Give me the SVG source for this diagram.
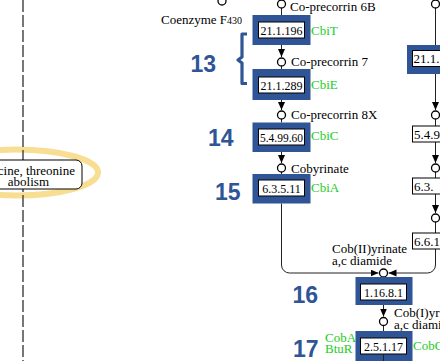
<svg xmlns="http://www.w3.org/2000/svg" width="440" height="361" viewBox="0 0 440 361">
  <style>
    .lbl { font-family: "Liberation Serif", "Times New Roman", serif; font-size: 13px; fill: #000; }
    .gene { font-family: "Liberation Serif", "Times New Roman", serif; font-size: 13px; fill: #1ECC1E; }
    .ec { font-family: "Liberation Serif", "Times New Roman", serif; font-size: 12px; fill: #000; text-anchor: middle; }
    .num { font-family: "Liberation Sans", Arial, sans-serif; font-size: 23px; font-weight: bold; fill: #2F5597; }
    .frame { fill: #2F5597; }
    .box { fill: #fff; stroke: #000; stroke-width: 1; }
    .cpd { fill: #fff; stroke: #000; stroke-width: 1.3; }
    .edge { fill: none; stroke: #222; stroke-width: 1; }
  </style>
  <defs>
    <marker id="arrow" markerUnits="userSpaceOnUse" markerWidth="8" markerHeight="8" refX="8" refY="3.5" orient="auto">
      <path d="M0,0 L8,3.5 L0,7 z" fill="#000"/>
    </marker>
  </defs>

  <rect width="440" height="361" fill="#fff"/>

  <!-- linked pathway map, highlighted -->
  <g id="map-glycine-threonine">
    <ellipse cx="16" cy="172.5" rx="82" ry="23" fill="none" stroke="#F8DE93" stroke-width="6"/>
    <line x1="23" y1="0" x2="23" y2="361" stroke="#555" stroke-width="1.6" stroke-dasharray="12 3"/>
    <rect x="-20" y="160" width="102" height="29" rx="6" ry="6" fill="#fff" stroke="#000" stroke-width="1"/>
    <text class="lbl" x="75" y="175" text-anchor="end">cine, threonine</text>
    <text class="lbl" x="49" y="186" text-anchor="end">abolism</text>
  </g>

  <!-- connectors -->
  <g id="connectors">
    <path class="edge" d="M281.5,-4 V15"/>
    <path class="edge" d="M281.5,45 V57" marker-end="url(#arrow)"/>
    <path class="edge" d="M281.5,62 V69"/>
    <path class="edge" d="M281.5,100 V110" marker-end="url(#arrow)"/>
    <path class="edge" d="M281.5,115 V122.5"/>
    <path class="edge" d="M281.5,152 V163" marker-end="url(#arrow)"/>
    <path class="edge" d="M281.5,168 V174"/>
    <path class="edge" d="M281.5,203.5 V265 A8,8 0 0 0 289.5,273 H378.5" marker-end="url(#arrow)"/>

    <path class="edge" d="M435.5,-4 V45"/>
    <path class="edge" d="M435.5,74 V110" marker-end="url(#arrow)"/>
    <path class="edge" d="M435.5,115 V126"/>
    <path class="edge" d="M435.5,142 V163" marker-end="url(#arrow)"/>
    <path class="edge" d="M435.5,168 V178"/>
    <path class="edge" d="M435.5,194 V213" marker-end="url(#arrow)"/>
    <path class="edge" d="M435.5,218 V233"/>
    <path class="edge" d="M435.5,249 V265 A8,8 0 0 1 427.5,273 H388.5" marker-end="url(#arrow)"/>

    <path class="edge" d="M383.5,305 V316.5" marker-end="url(#arrow)"/>
    <path class="edge" d="M383.5,321.5 V331"/>
  </g>

  <!-- compounds -->
  <g id="cpd-coenzyme-f430">
    <circle class="cpd" cx="222" cy="1" r="4"/>
    <text class="lbl" x="161" y="24">Coenzyme F<tspan font-size="10">430</tspan></text>
  </g>
  <g id="cpd-co-precorrin-6b">
    <circle class="cpd" cx="281.5" cy="4" r="4"/>
    <text class="lbl" x="290" y="11">Co-precorrin 6B</text>
  </g>
  <g id="cpd-co-precorrin-7">
    <circle class="cpd" cx="281.5" cy="62" r="4"/>
    <text class="lbl" x="291" y="66">Co-precorrin 7</text>
  </g>
  <g id="cpd-co-precorrin-8x">
    <circle class="cpd" cx="281.5" cy="115" r="4"/>
    <text class="lbl" x="291" y="119">Co-precorrin 8X</text>
  </g>
  <g id="cpd-cobyrinate">
    <circle class="cpd" cx="281.5" cy="168" r="4"/>
    <text class="lbl" x="291" y="173">Cobyrinate</text>
  </g>
  <g id="cpd-right-1"><circle class="cpd" cx="435.5" cy="4" r="4"/></g>
  <g id="cpd-right-2"><circle class="cpd" cx="435.5" cy="115" r="4"/></g>
  <g id="cpd-right-3"><circle class="cpd" cx="435.5" cy="168" r="4"/></g>
  <g id="cpd-right-4"><circle class="cpd" cx="435.5" cy="218" r="4"/></g>
  <g id="cpd-cob-ii-yrinate-diamide">
    <circle class="cpd" cx="383.5" cy="273" r="4"/>
    <text class="lbl" x="332" y="253">Cob(II)yrinate</text>
    <text class="lbl" x="332" y="265">a,c diamide</text>
  </g>
  <g id="cpd-cob-i-yrinate-diamide">
    <circle class="cpd" cx="383.5" cy="321.5" r="4"/>
    <text class="lbl" x="394" y="317">Cob(I)yrinate</text>
    <text class="lbl" x="394" y="329">a,c diamide</text>
  </g>

  <!-- enzymes (highlighted steps) -->
  <g id="step-13-21-1-196">
    <rect class="frame" x="252.5" y="15" width="58" height="30"/>
    <rect class="box" x="258.5" y="22" width="46" height="16"/>
    <text class="ec" x="281.5" y="35">21.1.196</text>
    <text class="gene" x="311" y="35">CbiT</text>
  </g>
  <g id="step-13-21-1-289">
    <rect class="frame" x="252.5" y="69" width="58" height="31"/>
    <rect class="box" x="258.5" y="77" width="46" height="16"/>
    <text class="ec" x="281.5" y="90">21.1.289</text>
    <text class="gene" x="311" y="89">CbiE</text>
  </g>
  <g id="step-14-5-4-99-60">
    <rect class="frame" x="252.5" y="122.5" width="58" height="29.5"/>
    <rect class="box" x="258.5" y="129" width="46" height="16"/>
    <text class="ec" x="281.5" y="142" textLength="43" lengthAdjust="spacingAndGlyphs">5.4.99.60</text>
    <text class="gene" x="311" y="140">CbiC</text>
  </g>
  <g id="step-15-6-3-5-11">
    <rect class="frame" x="252.5" y="174" width="58" height="29.5"/>
    <rect class="box" x="258.5" y="180" width="46" height="16"/>
    <text class="ec" x="281.5" y="193">6.3.5.11</text>
    <text class="gene" x="311" y="192">CbiA</text>
  </g>
  <g id="step-16-1-16-8-1">
    <rect class="frame" x="355.5" y="277" width="57" height="28"/>
    <rect class="box" x="360.5" y="284" width="46" height="16"/>
    <text class="ec" x="383.5" y="297">1.16.8.1</text>
  </g>
  <g id="step-17-2-5-1-17">
    <rect class="frame" x="355.5" y="331" width="57" height="32"/>
    <rect class="box" x="360.5" y="338" width="46" height="16"/>
    <text class="ec" x="383.5" y="351">2.5.1.17</text>
    <line x1="383.5" y1="354" x2="383.5" y2="362" stroke="#222" stroke-width="1"/>
    <text class="gene" x="325" y="342">CobA</text>
    <text class="gene" x="325" y="353">BtuR</text>
    <text class="gene" x="413" y="350">CobO</text>
  </g>

  <!-- right-hand column enzymes -->
  <g id="enzyme-right-21-1">
    <rect class="frame" x="407" y="45" width="60" height="29"/>
    <rect class="box" x="412.5" y="50.5" width="46" height="16"/>
    <text class="lbl" font-size="12" x="413.5" y="63">21.1.</text>
  </g>
  <g id="enzyme-right-5-4-9">
    <rect class="box" x="412.5" y="126" width="46" height="16"/>
    <text class="lbl" font-size="12" x="414" y="139">5.4.9</text>
  </g>
  <g id="enzyme-right-6-3">
    <rect class="box" x="412.5" y="178" width="46" height="16"/>
    <text class="lbl" font-size="12" x="414" y="191">6.3.</text>
  </g>
  <g id="enzyme-right-6-6-1">
    <rect class="box" x="412.5" y="233" width="46" height="16"/>
    <text class="lbl" font-size="12" x="414" y="246">6.6.1</text>
  </g>

  <!-- step numbers -->
  <g id="step-labels">
    <path d="M247,34 H242 V57 L238,60 L242,63 V83.5 H247" fill="none" stroke="#2F5597" stroke-width="3.2" stroke-linejoin="round"/>
    <text class="num" x="190.5" y="71.5">13</text>
    <text class="num" x="208" y="146">14</text>
    <text class="num" x="215" y="199.5">15</text>
    <text class="num" x="292.5" y="303">16</text>
    <text class="num" x="293" y="356.5">17</text>
  </g>
</svg>
